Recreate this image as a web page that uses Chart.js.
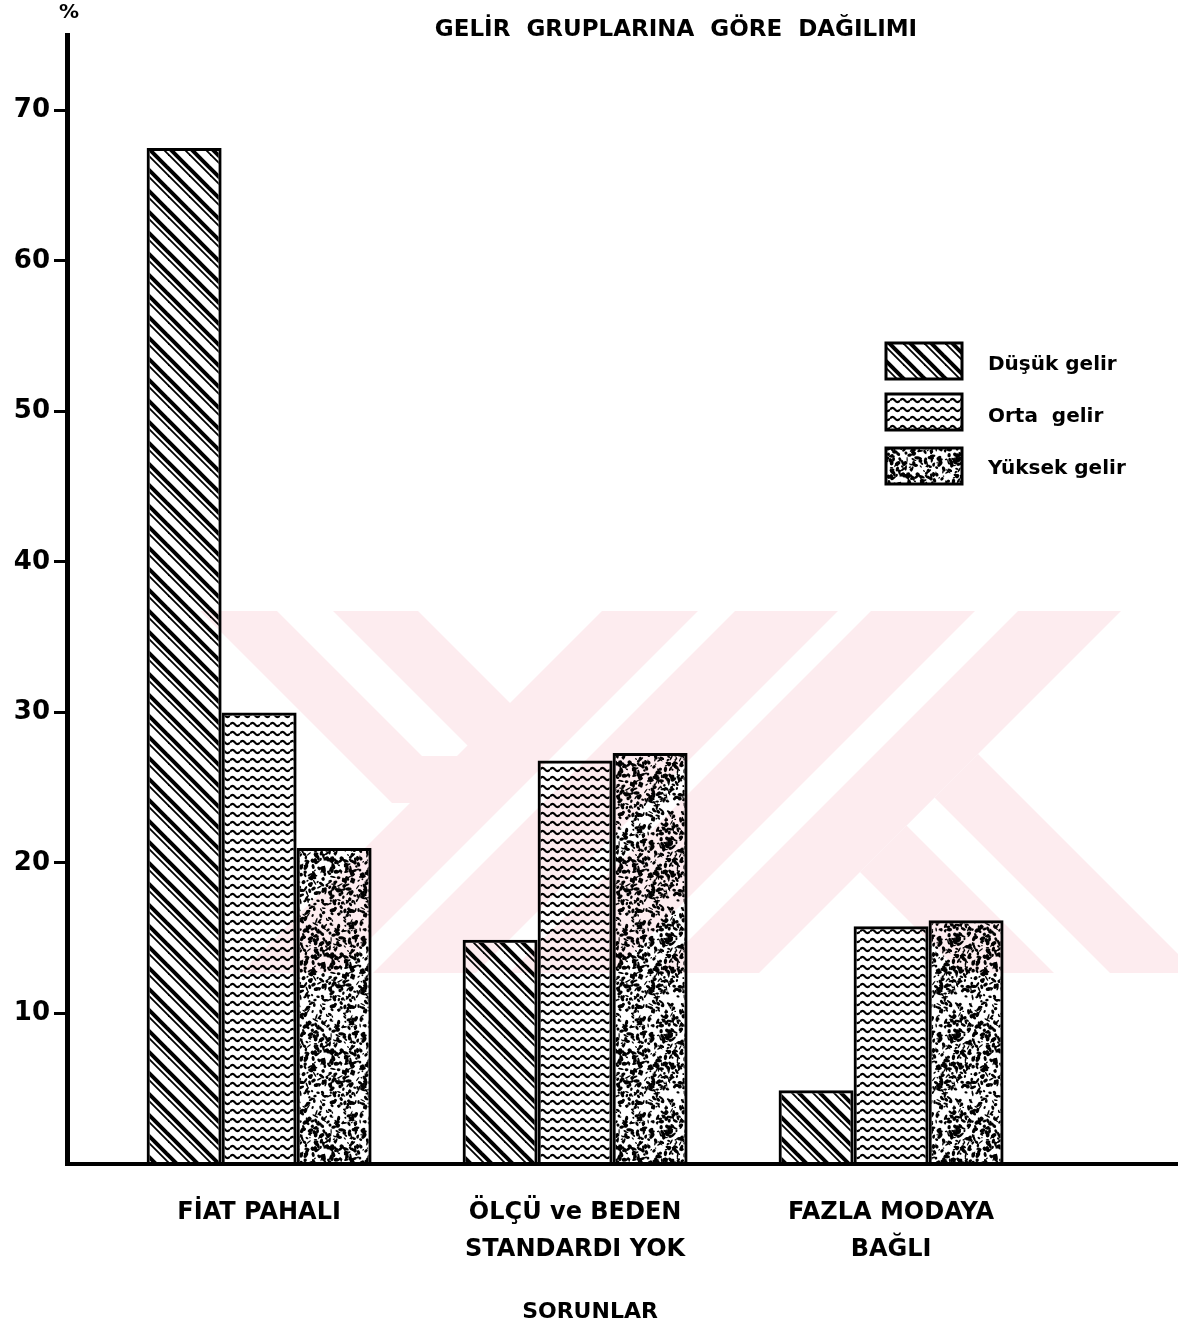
<!DOCTYPE html>
<html>
<head>
<meta charset="utf-8">
<script src="https://cdn.jsdelivr.net/npm/chart.js@4/dist/chart.umd.min.js"></script>
<style>
  html, body { margin: 0; padding: 0; background: #fff; }
  #wrap { width: 1178px; height: 1339px; position: relative; }
</style>
</head>
<body>
<div id="wrap"><canvas id="c"></canvas></div>
<script>
/* ═══ Data: problem (sorun) shares by income group, % ═══ */
const sorunlar = ['FİAT PAHALI', ['ÖLÇÜ ve BEDEN', 'STANDARDI YOK'], ['FAZLA MODAYA', 'BAĞLI']];
const dusukGelir  = [67.5, 14.9, 4.9];
const ortaGelir   = [30.0, 26.8, 15.8];
const yuksekGelir = [21.0, 27.3, 16.2];
const seriesNames = ['Düşük gelir', 'Orta  gelir', 'Yüksek gelir'];
const yTicks = [10, 20, 30, 40, 50, 60, 70];

const FONT = '"DejaVu Sans", sans-serif';
const ctx = document.getElementById('c').getContext('2d');

// ── fill patterns (transparent background so the watermark shows through) ──
function hatchPattern() {
  const s = 21, c = document.createElement('canvas');
  c.width = c.height = s;
  const g = c.getContext('2d');
  g.strokeStyle = '#000';
  [[0, 4], [7, 1.8]].forEach(([off, w]) => {
    g.lineWidth = w;
    for (let k = -1; k <= 1; k++) {
      g.beginPath();
      g.moveTo(-3, -3 + k * s + off);
      g.lineTo(s + 3, s + 3 + k * s + off);
      g.stroke();
    }
  });
  return ctx.createPattern(c, 'repeat');
}

function wavePattern() {
  const w = 10, c = document.createElement('canvas');
  c.width = w; c.height = 9;
  const g = c.getContext('2d');
  g.strokeStyle = '#000';
  g.lineWidth = 2.2;
  g.beginPath();
  for (let x = 0; x <= w; x += 0.5) {
    const y = 4.5 - 1.6 * Math.sin(2 * Math.PI * x / w);
    x === 0 ? g.moveTo(x, y) : g.lineTo(x, y);
  }
  g.stroke();
  return ctx.createPattern(c, 'repeat');
}

function specklePattern() {
  const s = 96, c = document.createElement('canvas');
  c.width = c.height = s;
  const g = c.getContext('2d');
  g.fillStyle = '#000';
  let seed = 12345;
  const rnd = () => { seed = (seed * 1103515245 + 12345) & 0x7fffffff; return seed / 0x7fffffff; };
  for (let i = 0; i < 620; i++) {
    const x = rnd() * s, y = rnd() * s;
    const rx = 0.7 + rnd() * 2.6, ry = 0.6 + rnd() * 1.4, a = rnd() * Math.PI;
    for (const dx of [-s, 0, s]) for (const dy of [-s, 0, s]) {
      g.beginPath();
      g.ellipse(x + dx, y + dy, rx, ry, a, 0, Math.PI * 2);
      g.fill();
    }
  }
  return ctx.createPattern(c, 'repeat');
}

const fills = [hatchPattern(), wavePattern(), specklePattern()];
const series = [dusukGelir, ortaGelir, yuksekGelir];

// ── faint pink watermark behind the bars ──
const watermark = {
  id: 'watermark',
  beforeDatasetsDraw(chart) {
    const g = chart.ctx;
    const poly = (pts, col) => {
      g.fillStyle = col;
      g.beginPath();
      pts.forEach(([x, y], i) => i ? g.lineTo(x, y) : g.moveTo(x, y));
      g.closePath();
      g.fill();
    };
    const pink = '#fdecef', white = '#ffffff';
    g.save();
    g.beginPath(); g.rect(140, 611, 1038, 362); g.clip();
    // right "\" band with a white stripe
    poly([[978, 754], [1400, 1176], [1400, 1412], [860, 872]], pink);
    poly([[934.5, 797.5], [1400, 1263], [1400, 1319], [906.5, 825.5]], white);
    // left "\" arm with its white stripe
    poly([[200, 611], [418, 611], [610, 803], [392, 803]], pink);
    poly([[277, 611], [333, 611], [478, 756], [422, 756]], white);
    // "/" bands with white gaps
    poly([[602, 611], [1121, 611], [759, 973], [240, 973]], pink);
    [[698, 735], [838, 871], [975, 1018]].forEach(([a, b]) =>
      poly([[a, 611], [b, 611], [b - 362, 973], [a - 362, 973]], white));
    g.restore();
  }
};

// ── title, axis captions and the legend drawn as text ──
const decorations = {
  id: 'decorations',
  afterDraw(chart) {
    const g = chart.ctx;
    g.save();
    g.fillStyle = '#000';
    g.textBaseline = 'middle';
    g.textAlign = 'center';
    g.font = 'bold 23px ' + FONT;
    g.fillText('GELİR  GRUPLARINA  GÖRE  DAĞILIMI', 676, 30);
    g.font = 'bold 22px ' + FONT;
    g.fillText('SORUNLAR', 590, 1312);
    g.font = 'bold 20px ' + FONT;
    g.fillText('%', 69, 13);

    // legend
    const boxes = [343, 394, 448];
    const textY = [365, 417, 469];
    g.textAlign = 'left';
    g.font = 'bold 20px ' + FONT;
    boxes.forEach((y, i) => {
      g.fillStyle = '#fff';
      g.fillRect(886, y, 76, 36);
      g.fillStyle = fills[i];
      g.fillRect(886, y, 76, 36);
      g.lineWidth = 3;
      g.strokeStyle = '#000';
      g.strokeRect(886, y, 76, 36);
      g.fillStyle = '#000';
      g.fillText(seriesNames[i], 988, textY[i]);
    });
    g.restore();
  }
};

const tickCol = c => (c.tick && c.tick.value === 0) ? 'rgba(0,0,0,0)' : '#000';

new Chart(ctx, {
  type: 'bar',
  data: {
    datasets: series.map((vals, i) => ({
      label: seriesNames[i],
      data: vals.map((v, k) => ({ x: k, y: v })),
      backgroundColor: fills[i],
      borderColor: '#000',
      borderWidth: 3,
      borderSkipped: 'bottom',
      categoryPercentage: 0.712,
      barPercentage: 1.0
    }))
  },
  options: {
    responsive: true,
    maintainAspectRatio: false,
    animation: false,
    layout: { padding: { top: 35, left: 0, right: 0, bottom: 0 } },
    plugins: {
      legend: { display: false },
      tooltip: { enabled: false },
      title: { display: false }
    },
    scales: {
      x: {
        type: 'linear',
        offset: false,
        min: -0.608,
        max: 2.908,
        grid: { display: false, offset: false },
        border: { display: true, color: '#000', width: 4 },
        ticks: {
          stepSize: 1,
          includeBounds: false,
          autoSkip: false,
          maxRotation: 0,
          padding: 22,
          color: '#000',
          font: { family: FONT, size: 24, weight: 'bold', lineHeight: 1.54 },
          callback: v => sorunlar[v] ?? ''
        },
        afterFit: s => { s.height = 175; }
      },
      y: {
        min: 0,
        max: 75,
        grid: {
          drawOnChartArea: false,
          drawTicks: true,
          tickLength: 13,
          tickWidth: 3,
          tickColor: tickCol,
          color: tickCol
        },
        border: { display: true, color: '#000', width: 5 },
        ticks: {
          stepSize: 10,
          includeBounds: false,
          padding: 4,
          color: '#000',
          font: { family: FONT, size: 26, weight: 'bold' },
          callback: v => yTicks.includes(v) ? String(v) : ''
        },
        afterFit: s => { s.width = 67; }
      }
    }
  },
  plugins: [watermark, decorations]
});
</script>
</body>
</html>
